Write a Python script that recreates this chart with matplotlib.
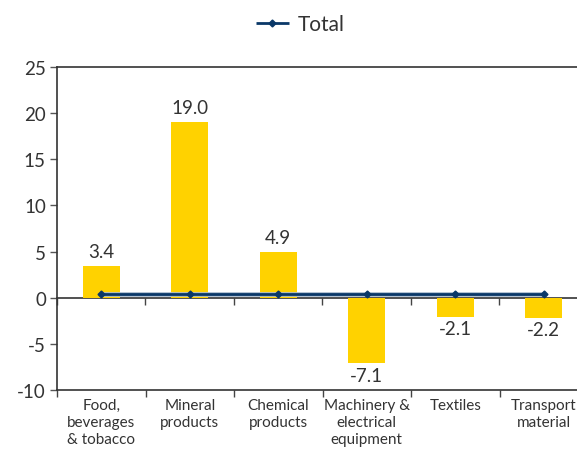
import matplotlib.pyplot as plt
import numpy as np

plt.rcParams['font.family'] = ['Lato', 'DejaVu Sans']
plt.rcParams['axes.unicode_minus'] = False

# Contribution by sector
categories = ["Food,\nbeverages\n& tobacco", "Mineral\nproducts", "Chemical\nproducts",
              "Machinery &\nelectrical\nequipment", "Textiles", "Transport\nmaterial"]
sector_values = [3.4, 19.0, 4.9, -7.1, -2.1, -2.2]
total_values = [0.45, 0.45, 0.45, 0.45, 0.45, 0.45]
y_ticks = [-10, -5, 0, 5, 10, 15, 20, 25]

bar_color = "#FFD200"
line_color = "#0A3868"
text_color = "#333333"

fig = plt.figure(figsize=(5.77, 4.52), dpi=100)
ax = fig.add_axes([57 / 577, 1 - 391 / 452, 531 / 577, 323 / 452])

x = np.arange(len(categories))
ax.bar(x, sector_values, width=0.42, color=bar_color, zorder=2)

# total line: soft halo underneath, then line with small diamonds
ax.plot(x, total_values, color="#A9BBCE", lw=3.4, zorder=3, solid_capstyle="butt")
line, = ax.plot(x, total_values, color=line_color, lw=2.0, marker="D", markersize=3.5,
                zorder=4, label="Total", solid_capstyle="butt")

# value labels
for xi, v in zip(x, sector_values):
    off = 10.5 if v >= 0 else -8.5
    ax.annotate(f"{v:.1f}", (xi, v), xytext=(0, off), textcoords="offset points",
                ha="center", va="center", fontsize=13.5, color=text_color)

ymin, ymax = y_ticks[0], y_ticks[-1]
ax.set_ylim(ymin, ymax)
ax.set_xlim(-0.5, len(categories) - 0.5)
ax.set_yticks(y_ticks)
ax.tick_params(axis="y", length=5, width=1, colors="#555555", labelsize=13.5,
               labelcolor=text_color, pad=3)

# category labels at the bottom, separators between categories
ax.set_xticks(x)
ax.set_xticklabels(categories, fontsize=11, color=text_color, linespacing=1.25)
ax.tick_params(axis="x", which="major", length=0, pad=6)
ax.set_xticks(np.arange(len(categories) + 1) - 0.5, minor=True)
ax.tick_params(axis="x", which="minor", length=5, width=1, color="#444444")

for s in ["left", "bottom", "top"]:
    ax.spines[s].set_color("#333333")
    ax.spines[s].set_linewidth(1.2)
ax.spines["right"].set_visible(False)

# zero line with category separators
zero_pos = (0 - ymin) / (ymax - ymin)
sec = ax.secondary_xaxis(zero_pos)
sec.set_xticks(np.arange(len(categories) + 1) - 0.5)
sec.set_xticklabels([])
sec.tick_params(axis="x", length=5, width=1, color="#444444")
sec.spines["bottom"].set_color("#333333")
sec.spines["bottom"].set_linewidth(1.2)

fig.legend(handles=[line], loc="center", bbox_to_anchor=(300 / 577, 1 - 25 / 452),
           frameon=False, fontsize=15, handlelength=1.6, handletextpad=0.4,
           labelcolor=text_color)

fig.savefig("out.png", dpi=100)
